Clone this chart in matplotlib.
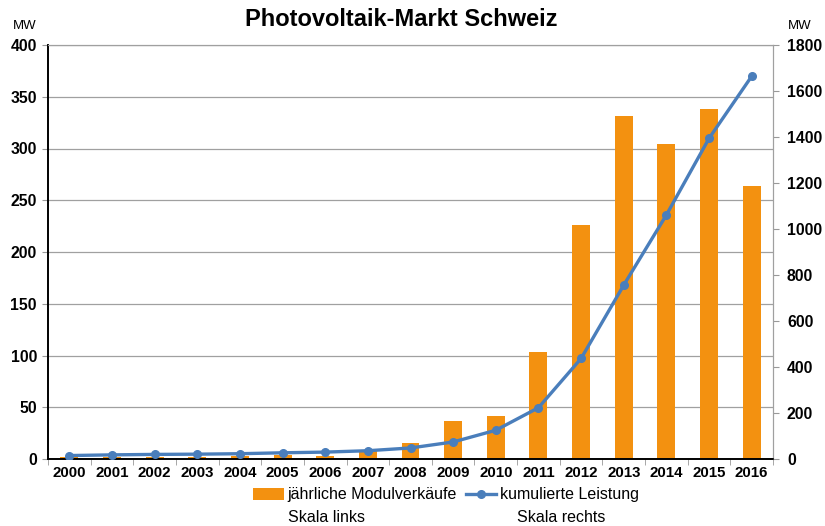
import numpy as np
import matplotlib.pyplot as plt

plt.rcParams["font.family"] = ["Liberation Sans", "DejaVu Sans"]

years = [str(y) for y in range(2000, 2017)]
annual_mw = [1.5, 2, 1.5, 1.5, 2.5, 4, 2.5, 8.5, 15.5, 37, 42, 103, 226, 331, 304, 338, 264]
cumulative_mw = [15, 18, 20, 21, 23, 27, 30, 36, 48, 74, 125, 223, 437, 756, 1061, 1394, 1664]

bar_color = "#F39110"
line_color = "#4A7EBB"

fig = plt.figure(figsize=(8.25, 5.26), dpi=100)
ax = fig.add_axes([48 / 825, 1 - 459 / 526, 725 / 825, 414 / 526])
ax2 = ax.twinx()

x = np.arange(len(years))
ax.bar(x, annual_mw, width=0.42, color=bar_color, zorder=2, label="jährliche Modulverkäufe")
ax2.plot(x, cumulative_mw, color=line_color, lw=2.4, marker="o", ms=5.5,
         label="kumulierte Leistung", zorder=3)

ax.set_xlim(-0.5, len(years) - 0.5)
ax.set_ylim(0, 400)
ax2.set_ylim(0, 1800)
ax.set_yticks(range(0, 401, 50))
ax2.set_yticks(range(0, 1801, 200))
ax.yaxis.grid(True, color="#A0A0A0", lw=0.9, zorder=0)
ax.set_axisbelow(True)

ax.set_xticks(x)
ax.set_xticklabels(years, fontweight="bold", fontsize=10.8)
ax.set_xticks(np.arange(-0.5, len(years)), minor=True)
ax.tick_params(axis="x", which="major", length=0, pad=5)
ax.tick_params(axis="x", which="minor", length=4, color="#999999")
ax.tick_params(axis="y", length=4, color="#999999", labelsize=11.3, pad=4)
ax2.tick_params(axis="y", length=4, color="#999999", labelsize=11.3, pad=6)
for lab in ax.get_yticklabels() + ax2.get_yticklabels():
    lab.set_fontweight("bold")

for a in (ax, ax2):
    a.spines["top"].set_color("#A0A0A0")
    a.spines["right"].set_color("#A0A0A0")
    a.spines["left"].set_color("black")
    a.spines["bottom"].set_color("black")
    a.spines["left"].set_linewidth(1.2)
    a.spines["bottom"].set_linewidth(1.2)

fig.text(401 / 825, 1 - 20 / 526, "Photovoltaik-Markt Schweiz", ha="center", va="center",
         fontsize=17, fontweight="bold")
fig.text(25 / 825, 1 - 26 / 526, "MW", ha="center", va="center", fontsize=9.5)
fig.text(800 / 825, 1 - 26 / 526, "MW", ha="center", va="center", fontsize=9.5)

h1, l1 = ax.get_legend_handles_labels()
h2, l2 = ax2.get_legend_handles_labels()
fig.legend(h1 + h2, l1 + l2, loc="center", bbox_to_anchor=(446 / 825, 1 - 495 / 526),
           ncol=2, frameon=False, fontsize=11.5, handlelength=1.9, handletextpad=0.2,
           columnspacing=0.6)
fig.text(326 / 825, 1 - 517 / 526, "Skala links", ha="center", va="center", fontsize=11.5)
fig.text(561 / 825, 1 - 517 / 526, "Skala rechts", ha="center", va="center", fontsize=11.5)

fig.savefig("out.png", dpi=100)
